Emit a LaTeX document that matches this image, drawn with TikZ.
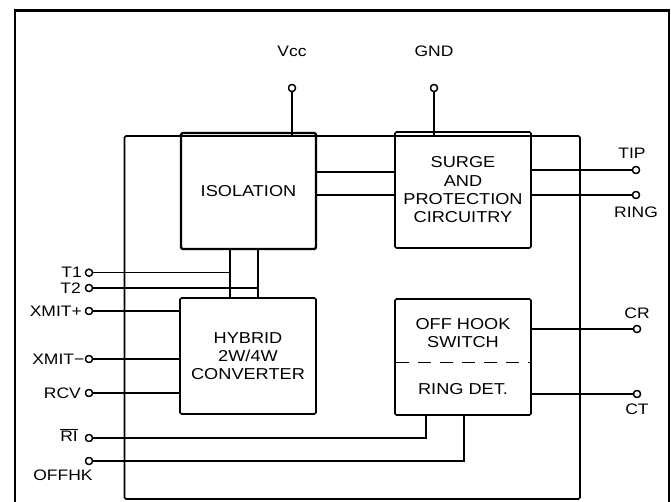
\documentclass[tikz,border=0pt]{standalone}
\usepackage{fontspec}
\setmainfont[FakeStretch=1.15]{Liberation Sans}
\begin{document}
\begin{tikzpicture}[x=1pt,y=-1pt,
  wire/.style={line width=1.4pt},
  blockbox/.style={draw, line width=1.7pt, rounded corners=1.5pt, minimum width=136pt, minimum height=116pt, inner sep=0pt, align=center, font=\fontsize{15.8}{18.3}\selectfont},
  pinc/.style={circle, draw, line width=1.3pt, fill=white, minimum size=7pt, inner sep=0pt},
  pinlbl/.style={inner sep=0pt, font=\fontsize{15.2}{17}\selectfont},
  blocktxt/.style={inner sep=0pt, align=center, font=\fontsize{15.8}{18.3}\selectfont}]
\useasboundingbox (0,0) rectangle (671,502);
\clip (0,0) rectangle (671,502);
% outer frame
\draw[line width=2.5pt] (15,515) -- (15,10.7) -- (669,10.7) -- (669,515);
% IC body
\node[draw, line width=1.7pt, rounded corners=1.5pt, minimum width=455.5pt, minimum height=363pt, inner sep=0pt] (ic) at (352.25,317.5) {};
% blocks
\node[blockbox, line width=2.4pt, minimum width=135pt] (iso) at (248.5,191) {ISOLATION};
\node[blockbox] (surge) at (463,190) {SURGE\\AND\\PROTECTION\\CIRCUITRY};
\node[blockbox] (hyb) at (248,356) {HYBRID\\2W/4W\\CONVERTER};
\node[blockbox] (ohs) at (463,357) {};
\node[blocktxt] (ohstxt) at (463,333) {OFF HOOK\\SWITCH};
\node[blocktxt] (rdtxt) at (463,389) {RING DET.};
\draw[line width=1.2pt, dash pattern=on 13pt off 9pt, dash phase=-2pt] (ohs.west |- 0,362.7) -- (ohs.east |- 0,362.7);
% pins
\node[pinc] (vcc) at (292,88) {};
\node[pinc] (gnd) at (434,88) {};
\node[pinc] (tip) at (636,170) {};
\node[pinc] (ring) at (636,195) {};
\node[pinc] (cr) at (637,329) {};
\node[pinc] (ct) at (637,394) {};
\node[pinc] (t1) at (89,272.7) {};
\node[pinc] (t2) at (89,288) {};
\node[pinc] (xp) at (89,311) {};
\node[pinc] (xm) at (89,359) {};
\node[pinc] (rcv) at (89,393) {};
\node[pinc] (ri) at (89,438) {};
\node[pinc] (offhk) at (89,461) {};
% pin labels
\node[pinlbl] (vccl) at (292,51) {Vcc};
\node[pinlbl] (gndl) at (434,51) {GND};
\node[pinlbl] (tipl) at (632,153) {TIP};
\node[pinlbl] (ringl) at (636,212) {RING};
\node[pinlbl] (crl) at (637,313) {CR};
\node[pinlbl] (ctl) at (637,409) {CT};
\node[pinlbl, anchor=east] (t1l) at (82,272.7) {T1};
\node[pinlbl, anchor=east] (t2l) at (81,288) {T2};
\node[pinlbl, anchor=east] (xpl) at (82,311) {XMIT+};
\node[pinlbl, anchor=east] (xml) at (84.5,359) {XMIT−};
\node[pinlbl, anchor=east] (rcvl) at (81,393) {RCV};
\node[pinlbl] (ril) at (69,435) {$\overline{\hbox{RI}}$};
\node[pinlbl] (offhkl) at (63,475) {OFFHK};
% internal coordinates
\coordinate (v1) at (230,249);
\coordinate (v2) at (258,249);
\coordinate (ri1) at (426,438);
\coordinate (of1) at (464,461);
% connectors
\draw[wire] (vcc) -- (vcc |- ic.north);
\draw[wire] (gnd) -- (gnd |- ic.north);
\draw[wire] (tip -| surge.east) -- (tip);
\draw[wire] (ring -| surge.east) -- (ring);
\draw[wire] (cr -| ohs.east) -- (cr);
\draw[wire] (ct -| ohs.east) -- (ct);
\draw[wire] ([yshift=19pt]iso.east) -- ([yshift=19pt]iso.east -| surge.west);
\draw[wire] ([yshift=-4pt]iso.east) -- ([yshift=-4pt]iso.east -| surge.west);
\draw[wire] (v1) -- (v1 |- hyb.north);
\draw[wire] (v2) -- (v2 |- hyb.north);
\draw[wire] (t1) -- (t1 -| v1);
\draw[wire] (t2) -- (t2 -| v2);
\draw[wire] (xp) -- (xp -| hyb.west);
\draw[wire] (xm) -- (xm -| hyb.west);
\draw[wire] (rcv) -- (rcv -| hyb.west);
\draw[wire] (ri) -- (ri1) -- (ri1 |- ohs.south);
\draw[wire] (offhk) -- (of1) -- (of1 |- ohs.south);
% redraw pins on top
\foreach \p in {vcc,gnd,tip,ring,cr,ct,t1,t2,xp,xm,rcv,ri,offhk}
  \draw[line width=1.3pt, fill=white] (\p) circle (3.5pt);
\end{tikzpicture}
\end{document}
